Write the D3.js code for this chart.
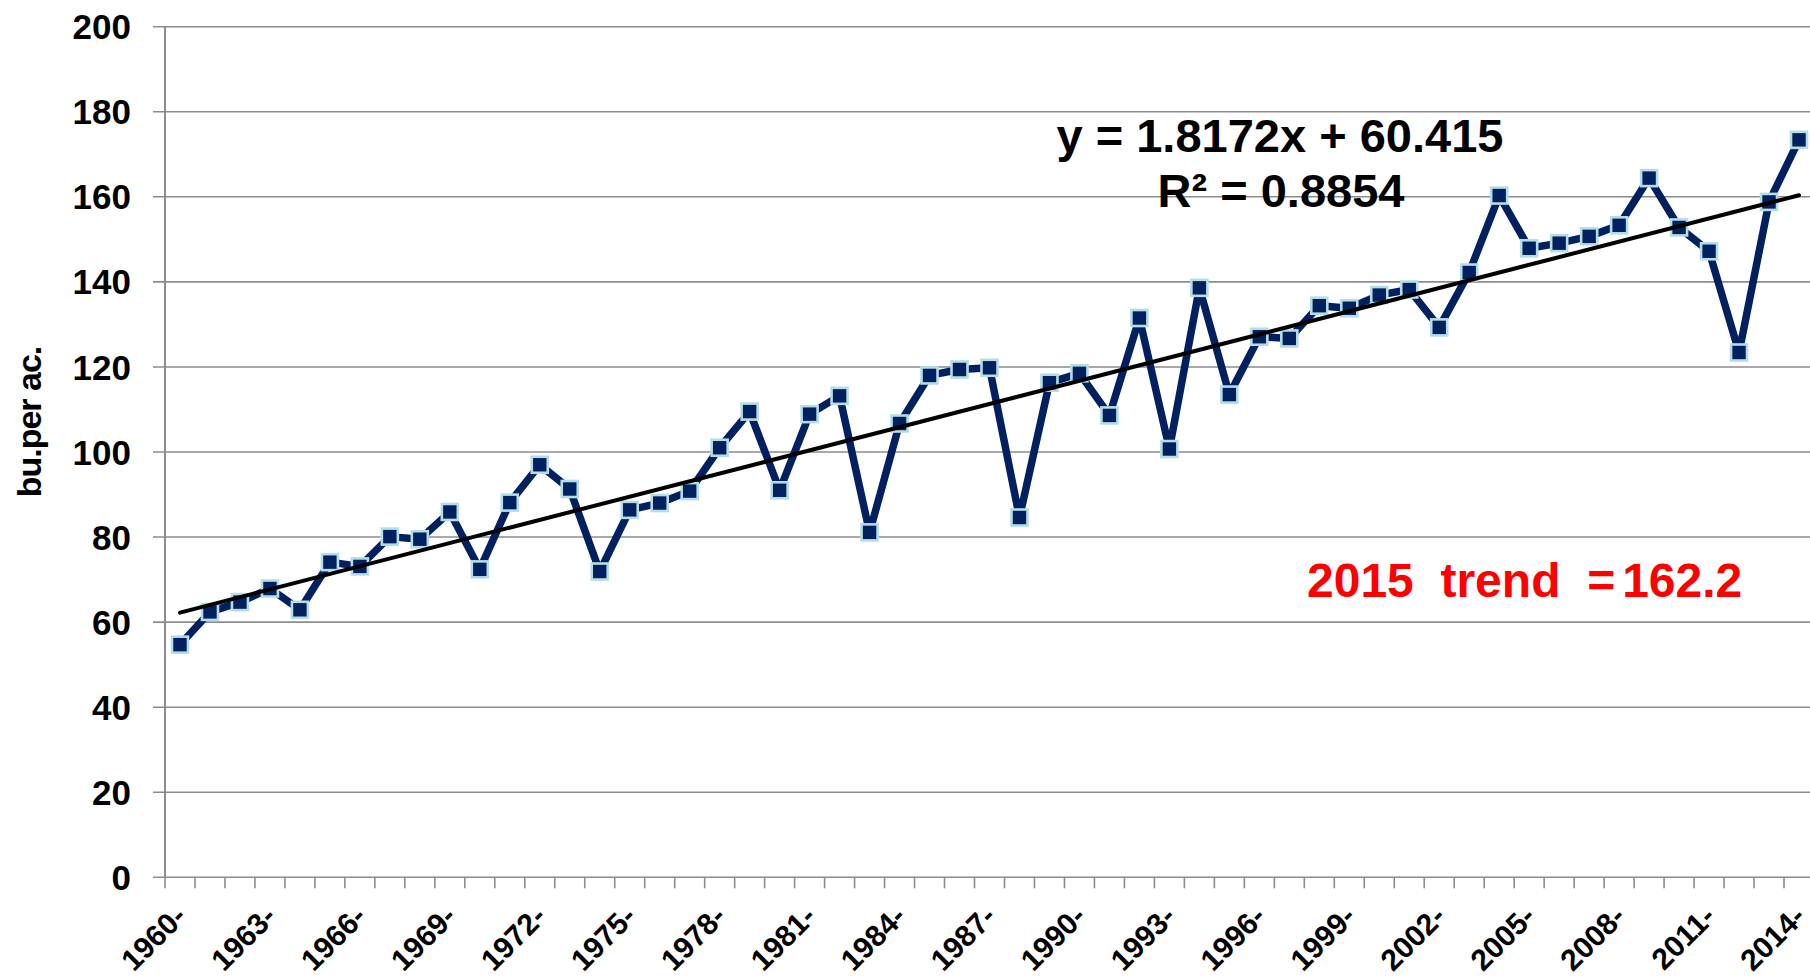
<!DOCTYPE html>
<html>
  <head>
    <meta charset="utf-8">
    <title>Corn yield trend</title>
    <script src="https://d3js.org/d3.v7.min.js"></script>
    <style>
      body {
        margin: 0;
        background-color: white;
        font-family: "Liberation Sans", Arial, sans-serif;
      }
      .grid line {
        stroke: #8c8c8c;
        stroke-width: 1.6;
      }
      .tick-label {
        font-weight: bold;
        fill: black;
      }
    </style>
  </head>
  <body>
    <svg id="chart" width="1810" height="979"></svg>

    <script>
      // data: US corn yield, bu. per acre
      var years = [1960, 1961, 1962, 1963, 1964, 1965, 1966, 1967, 1968, 1969,
                   1970, 1971, 1972, 1973, 1974, 1975, 1976, 1977, 1978, 1979,
                   1980, 1981, 1982, 1983, 1984, 1985, 1986, 1987, 1988, 1989,
                   1990, 1991, 1992, 1993, 1994, 1995, 1996, 1997, 1998, 1999,
                   2000, 2001, 2002, 2003, 2004, 2005, 2006, 2007, 2008, 2009,
                   2010, 2011, 2012, 2013, 2014];
      var yields = [54.7, 62.4, 64.7, 67.9, 62.9, 74.1, 73.1, 80.1, 79.5, 85.9,
                    72.4, 88.1, 97.0, 91.3, 71.9, 86.4, 88.0, 90.8, 101.0, 109.5,
                    91.0, 108.9, 113.2, 81.1, 106.7, 118.0, 119.4, 119.8, 84.6, 116.3,
                    118.5, 108.6, 131.5, 100.7, 138.6, 113.5, 127.1, 126.7, 134.4, 133.8,
                    136.9, 138.2, 129.3, 142.2, 160.3, 147.9, 149.1, 150.7, 153.3, 164.4,
                    152.8, 147.2, 123.4, 158.8, 173.4];
      var labelYears = [1960, 1963, 1966, 1969, 1972, 1975, 1978, 1981, 1984, 1987,
                        1990, 1993, 1996, 1999, 2002, 2005, 2008, 2011, 2014];
      var yTicks = [0, 20, 40, 60, 80, 100, 120, 140, 160, 180, 200];

      // trendline from the chart
      var slope = 1.8172;
      var intercept = 60.415;
      var r2 = 0.8854;
      var trendYear = 2015;

      var svg = d3.select('#chart');

      var x = d3.scaleBand()
        .domain(years)
        .range([165, 1814]);

      var y = d3.scaleLinear()
        .domain([0, 200])
        .range([877.3, 26.7]);

      // horizontal gridlines (with the little tick stubs on the left)
      svg.append('g')
        .attr('class', 'grid')
        .selectAll('line')
        .data(yTicks)
        .enter().append('line')
          .attr('x1', 153)
          .attr('x2', 1810)
          .attr('y1', function(d){ return y(d); })
          .attr('y2', function(d){ return y(d); });

      // y axis line
      svg.append('line')
        .attr('x1', 165).attr('x2', 165)
        .attr('y1', y(200)).attr('y2', y(0))
        .attr('stroke', '#8c8c8c')
        .attr('stroke-width', 2);

      // x axis with ticks between categories
      var xAxis = d3.axisBottom(x).tickSize(11).tickFormat('');
      var gx = svg.append('g')
        .attr('transform', 'translate(0,' + y(0) + ')')
        .call(xAxis);
      gx.select('.domain').remove();
      gx.selectAll('.tick line')
        .attr('transform', 'translate(' + (-x.step() / 2) + ',0)')
        .attr('stroke', '#8c8c8c')
        .attr('stroke-width', 1.6);

      // y tick labels
      svg.append('g')
        .selectAll('text')
        .data(yTicks)
        .enter().append('text')
          .attr('class', 'tick-label')
          .attr('x', 131)
          .attr('y', function(d){ return y(d); })
          .attr('dy', '0.36em')
          .attr('text-anchor', 'end')
          .style('font-size', '35px')
          .text(function(d){ return d; });

      // x tick labels, rotated
      svg.append('g')
        .selectAll('text')
        .data(labelYears)
        .enter().append('text')
          .attr('class', 'tick-label')
          .attr('text-anchor', 'end')
          .style('font-size', '30px')
          .attr('transform', function(d){
            var cx = x(d) + x.bandwidth() / 2;
            return 'translate(' + (cx + 8) + ',' + (y(0) + 41) + ') rotate(-45)';
          })
          .text(function(d){ return d + '-'; });

      // y axis title
      svg.append('text')
        .attr('transform', 'translate(41,422) rotate(-90)')
        .attr('text-anchor', 'middle')
        .style('font-size', '34px')
        .style('font-weight', 'bold')
        .style('letter-spacing', '-1px')
        .text('bu.per ac.');

      // data line
      var line = d3.line()
        .x(function(d, i){ return x(years[i]) + x.bandwidth() / 2; })
        .y(function(d){ return y(d); });

      svg.append('path')
        .datum(yields)
        .attr('d', line)
        .attr('fill', 'none')
        .attr('stroke', '#002060')
        .attr('stroke-width', 7.5)
        .attr('stroke-linejoin', 'round');

      // square markers
      svg.append('g')
        .selectAll('rect')
        .data(yields)
        .enter().append('rect')
          .attr('x', function(d, i){ return x(years[i]) + x.bandwidth() / 2 - 8; })
          .attr('y', function(d){ return y(d) - 8; })
          .attr('width', 16)
          .attr('height', 16)
          .attr('fill', '#002060')
          .attr('stroke', '#b4dde6')
          .attr('stroke-width', 2.6);

      // linear trendline, x = 1..55
      var first = years[0], last = years[years.length - 1];
      var trendPts = [first, last].map(function(yr){
        var n = yr - first + 1;
        return [x(yr) + x.bandwidth() / 2, y(slope * n + intercept)];
      });
      svg.append('line')
        .attr('x1', trendPts[0][0]).attr('y1', trendPts[0][1])
        .attr('x2', trendPts[1][0]).attr('y2', trendPts[1][1])
        .attr('stroke', 'black')
        .attr('stroke-width', 4)
        .attr('stroke-linecap', 'round');

      // equation label
      var eq = svg.append('text')
        .attr('text-anchor', 'middle')
        .style('font-size', '47px')
        .style('font-weight', 'bold')
        .attr('fill', 'black');
      eq.append('tspan')
        .attr('x', 1280).attr('y', 152)
        .text('y = ' + slope + 'x + ' + intercept);
      eq.append('tspan')
        .attr('x', 1281).attr('y', 207)
        .text('R\u00B2 = ' + r2);

      // 2015 trend label
      var trend2015 = slope * (trendYear - first + 1) + intercept;
      var red = svg.append('text')
        .attr('x', 1307)
        .attr('y', 597)
        .attr('fill', '#ff0000')
        .style('font-size', '48px')
        .style('font-weight', 'bold')
        .style('white-space', 'pre')
        .attr('xml:space', 'preserve');
      red.append('tspan').text(trendYear + '  trend  =');
      red.append('tspan').attr('dx', 7).text(trend2015.toFixed(1));
    </script>
  </body>
</html>
